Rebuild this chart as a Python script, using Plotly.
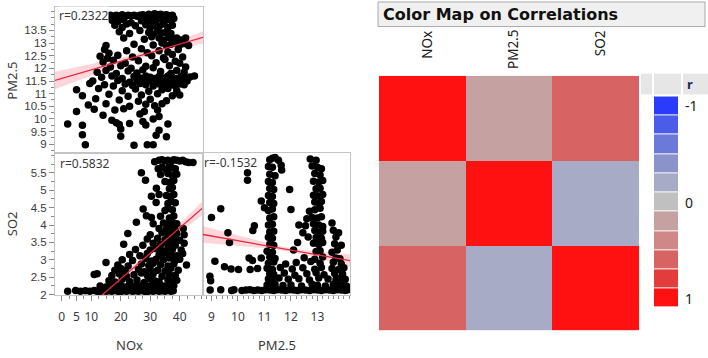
import numpy as np
import plotly.graph_objects as go

W, H = 708, 358
FONT = "Noto Sans"

# ---------------- data: PM2.5 vs NOx (top-left panel) ----------------
nox_a = [
    15.5, 16.5, 17.5, 18.5, 19.5, 20.5, 21.5, 22.5, 23.5, 24.5, 25.5, 26.5, 27.5, 28.5, 29.5, 30.5, 31.5, 32.5, 33.5, 34.5, 35.5, 36.5, 37.5,
    17, 19, 21, 23.5, 27, 29, 30.5, 32, 33.5, 35, 36.5, 38,
    18, 20.5, 22, 25, 28.5, 30, 31.5, 33, 34.5, 36, 37.5,
    19.5, 23, 26.5, 29.5, 31, 32.5, 34, 35.5, 37,
    21, 28, 30.5, 33, 34.5, 36, 37.5, 39, 40.5, 42,
    15, 24.5, 31, 34, 35.5, 37, 38.5, 40, 41.5, 43,
    14.5, 16, 22, 27, 29, 33, 36, 39.5,
    13, 15.5, 19, 24, 30.5, 34.5, 37.5, 41,
    14, 17.5, 21.5, 26, 32, 35, 38.5, 40,
    16.5, 20, 23.5, 28.5, 31, 36.5, 42,
    12, 15, 18.5, 22.5, 25.5, 27.5, 33.5, 37, 39, 41.5,
    13.5, 17, 20.5, 24.5, 26.5, 28.5, 30, 31.5, 33, 34.5, 36, 37.5, 39, 40.5, 42, 43.5, 45,
    10.5, 19, 23, 25.5, 27.5, 29, 30.5, 32, 33.5, 35, 36.5, 38, 39.5, 41, 42.5,
    9.5, 14.5, 17.5, 21.5, 24, 26.5, 28.5, 31, 33, 35, 37, 38.5, 40, 41.5,
    5, 12.5, 20.5, 25, 29.5, 34, 36, 39,
    7, 16, 22.5, 27, 32.5, 37.5, 40,
    11.5, 19.5, 26, 30, 35.5,
    9, 15, 23, 28.5, 31.5, 34,
    5, 11, 18, 21, 28, 32.5,
    14, 26.5, 33,
    17, 27.5, 31,
    2, 7, 18.5, 19.5, 23, 28.5, 36,
    20, 33,
    7, 20, 32, 35.5,
    8, 24.5, 29, 31,
]
pm_a = [
    14.08, 14.1, 14.06, 14.1, 14.08, 14.12, 14.06, 14.1, 14.08, 14.1, 14.06, 14.1, 14.12, 14.08, 14.14, 14.1, 14.16, 14.12, 14.14, 14.1, 14.12, 14.08, 14.1,
    13.9, 13.85, 13.92, 13.8, 13.88, 13.95, 13.85, 13.9, 13.95, 13.88, 13.92, 13.97,
    13.7, 13.62, 13.75, 13.68, 13.72, 13.6, 13.7, 13.65, 13.75, 13.62, 13.7,
    13.45, 13.38, 13.5, 13.42, 13.35, 13.48, 13.4, 13.45, 13.38,
    13.2, 13.15, 13.25, 13.2, 13.1, 13.22, 13.15, 13.2, 13.12, 13.2,
    12.9, 12.95, 12.92, 13.0, 12.9, 12.95, 13.0, 12.92, 12.98, 12.9,
    12.75, 12.6, 12.7, 12.78, 12.62, 12.7, 12.65, 12.75,
    12.48, 12.4, 12.52, 12.45, 12.5, 12.42, 12.55, 12.45,
    12.25, 12.32, 12.2, 12.3, 12.22, 12.35, 12.28, 12.2,
    12.05, 12.1, 12.0, 12.08, 12.02, 12.1, 12.05,
    11.85, 11.92, 11.8, 11.9, 11.82, 11.95, 11.88, 11.8, 11.92, 11.85,
    11.65, 11.7, 11.6, 11.68, 11.62, 11.7, 11.65, 11.6, 11.68, 11.62, 11.7, 11.65, 11.6, 11.68, 11.62, 11.66, 11.7,
    11.5, 11.52, 11.45, 11.5, 11.55, 11.48, 11.52, 11.45, 11.5, 11.55, 11.48, 11.5, 11.45, 11.52, 11.5,
    11.4, 11.35, 11.3, 11.38, 11.32, 11.4, 11.35, 11.3, 11.38, 11.32, 11.35, 11.3, 11.38, 11.35,
    11.15, 11.2, 11.12, 11.18, 11.1, 11.15, 11.2, 11.12,
    10.92, 10.98, 10.9, 10.95, 11.0, 10.92, 10.95,
    10.8, 10.75, 10.7, 10.78, 10.72,
    10.55, 10.6, 10.5, 10.58, 10.52, 10.6,
    10.3, 10.38, 10.35, 10.4, 10.3, 10.35,
    10.15, 10.2, 10.1,
    9.95, 9.9, 10.0,
    9.8, 9.75, 9.85, 9.78, 9.82, 9.76, 9.8,
    9.6, 9.55,
    9.38, 9.32, 9.36, 9.3,
    8.98, 8.96, 8.98, 8.98,
]

# ---------------- data: SO2 vs NOx (bottom-left panel) ----------------
nox_b = [
    2, 4.7, 6.3, 8, 9.5, 11, 12, 13, 14, 15, 16, 17, 18, 19, 20, 21, 22, 23, 24, 25, 26, 27, 28, 29, 30, 31, 32, 33, 34, 35, 36, 37, 37.8,
    13, 15, 17, 18.5, 20, 21.5, 23, 24.5, 26, 27.5, 29, 30.5, 32, 33.5, 35, 36.5, 38,
    16, 18, 20.5, 23, 25.5, 28, 30, 31.5, 33, 36, 37.5, 39,
    11, 12, 17, 19.5, 22, 24.5, 27, 29, 31, 34, 36.5, 38.5,
    18, 20, 21.5, 26, 28, 30, 32.5, 35, 37, 39.5,
    15, 19, 22.5, 27, 29.5, 31, 33.5, 36, 38, 42.3,
    20.5, 24, 28.5, 30.5, 32, 34.5, 36.5, 38.5, 40,
    23, 26.5, 29, 33, 35, 37, 39, 41,
    25, 30, 32, 34, 36, 37.5, 40.5,
    21, 27.5, 31, 33.5, 35.5, 37, 38.5, 41.5,
    29, 32.5, 35, 36.5, 38, 40,
    22.4, 30, 34, 36, 37.5, 39, 41.5,
    33, 35.5, 37, 38.5, 41.2,
    25.3, 31, 34.5, 36, 37.5, 39,
    28.7, 30.4, 33.5, 36.5, 38,
    27.6, 35, 36, 37.5,
    32, 36, 37, 38.5,
    30.4, 33, 35.5, 37, 38,
    32.1, 36.5, 37.5,
    28.4, 35, 36.5, 38,
    27, 33.5, 36, 37.5, 39,
    32.7, 34, 35.5, 36.5, 37.5, 38.5,
    31.5, 33, 34, 35, 36, 37, 38, 39, 40, 41, 42, 43, 44.5,
]
so2_b = [
    2.1, 2.12, 2.1, 2.11, 2.1, 2.12, 2.1, 2.09, 2.12, 2.1, 2.11, 2.1, 2.12, 2.1, 2.09, 2.11, 2.1, 2.12, 2.1, 2.11, 2.1, 2.12, 2.1, 2.09, 2.11, 2.1, 2.12, 2.1, 2.11, 2.1, 2.12, 2.1, 2.11,
    2.25, 2.22, 2.28, 2.24, 2.26, 2.22, 2.27, 2.25, 2.23, 2.28, 2.24, 2.26, 2.22, 2.27, 2.25, 2.23, 2.26,
    2.4, 2.36, 2.44, 2.38, 2.42, 2.35, 2.45, 2.4, 2.37, 2.43, 2.39, 2.41,
    2.58, 2.6, 2.55, 2.6, 2.52, 2.57, 2.62, 2.55, 2.6, 2.53, 2.58, 2.56,
    2.7, 2.75, 2.68, 2.72, 2.66, 2.74, 2.7, 2.68, 2.76, 2.7,
    2.92, 2.85, 2.82, 2.88, 2.84, 2.9, 2.86, 2.82, 2.88, 2.85,
    3.0, 2.98, 3.04, 2.97, 3.02, 3.0, 3.05, 2.98, 3.02,
    3.15, 3.12, 3.18, 3.14, 3.2, 3.16, 3.12, 3.18,
    3.3, 3.28, 3.32, 3.26, 3.34, 3.3, 3.28,
    3.45, 3.42, 3.48, 3.44, 3.5, 3.46, 3.42, 3.48,
    3.6, 3.62, 3.58, 3.64, 3.6, 3.56,
    3.76, 3.72, 3.78, 3.74, 3.8, 3.76, 3.72,
    3.9, 3.88, 3.92, 3.86, 3.9,
    4.08, 4.04, 4.06, 4.02, 4.08, 4.04,
    4.27, 4.22, 4.25, 4.2, 4.26,
    4.46, 4.42, 4.48, 4.44,
    4.65, 4.62, 4.68, 4.64,
    4.83, 4.88, 4.85, 4.82, 4.88,
    5.06, 5.04, 5.08,
    5.29, 5.25, 5.22, 5.28,
    5.5, 5.45, 5.48, 5.42, 5.46,
    5.62, 5.66, 5.6, 5.68, 5.64, 5.62,
    5.82, 5.86, 5.88, 5.84, 5.86, 5.82, 5.88, 5.86, 5.84, 5.86, 5.82, 5.8, 5.8,
]

# ---------------- data: SO2 vs PM2.5 (bottom-middle panel) ----------------
pm_c = [
    8.95, 9.35, 9.76, 9.85, 10.15, 10.3, 10.45, 10.6, 10.75, 10.9, 11.05, 11.2, 11.35, 11.5, 11.65, 11.8, 11.95, 12.1, 12.25, 12.4, 12.55, 12.7, 12.85, 13.0, 13.15, 13.3, 13.45, 13.6, 13.75, 13.9, 14.05, 14.15,
    11.1, 11.25, 11.4, 11.7, 12.0, 12.4, 12.8, 13.0, 13.3, 13.6, 13.75, 13.9, 14.1,
    8.97, 11.15, 11.3, 11.55, 11.9, 12.3, 12.7, 13.05, 13.4, 13.7, 13.85, 14.05,
    8.94, 11.2, 11.35, 11.75, 12.15, 12.6, 12.95, 13.25, 13.65, 13.95,
    9.49, 9.74, 10.02, 10.46, 10.74, 11.1, 11.3, 11.6, 12.05, 12.45, 12.9, 13.15, 13.55, 13.8, 14.0,
    9.13, 10.55, 11.15, 11.35, 11.8, 12.2, 12.75, 13.1, 13.6, 13.9,
    10.42, 10.88, 11.2, 11.4, 12.5, 12.9, 13.2, 13.7, 13.85,
    11.1, 11.3, 12.1, 12.95, 13.1, 13.55, 13.75,
    9.68, 11.2, 11.35, 12.25, 12.85, 13.05, 13.2, 13.65, 13.9,
    11.15, 11.3, 12.65, 12.95, 13.15, 13.7,
    9.62, 10.56, 11.2, 11.35, 12.45, 12.9, 13.1, 13.2, 13.6, 13.8,
    10.62, 11.15, 11.3, 12.3, 12.55, 12.85, 13.05, 13.2, 13.55,
    9.0, 11.2, 11.35, 12.6, 12.8, 13.0, 13.15,
    9.35, 11.0, 11.15, 11.3, 12.0, 12.7, 12.9, 13.1,
    10.88, 11.2, 11.35, 12.9, 13.05, 13.15,
    11.15, 11.3, 12.85, 13.0, 13.2,
    11.95, 11.2, 11.35, 12.95, 13.1,
    10.36, 11.15, 11.3, 12.85, 13.05, 13.2,
    10.36, 11.2, 11.4, 11.65, 12.9, 13.1,
    11.15, 11.3, 11.63, 12.8, 13.0, 13.15,
    11.2, 11.3, 11.4, 11.53, 12.73, 12.95,
]
so2_c = [
    2.13, 2.14, 2.12, 2.14, 2.12, 2.13, 2.14, 2.12, 2.13, 2.12, 2.14, 2.13, 2.12, 2.14, 2.13, 2.12, 2.14, 2.13, 2.12, 2.14, 2.13, 2.12, 2.14, 2.13, 2.12, 2.14, 2.13, 2.12, 2.14, 2.13, 2.12, 2.14,
    2.28, 2.25, 2.3, 2.26, 2.28, 2.25, 2.3, 2.27, 2.25, 2.29, 2.26, 2.28, 2.25,
    2.4, 2.45, 2.42, 2.48, 2.44, 2.46, 2.42, 2.48, 2.45, 2.43, 2.47, 2.44,
    2.53, 2.6, 2.58, 2.62, 2.56, 2.6, 2.63, 2.57, 2.61, 2.59,
    2.8, 2.74, 2.72, 2.72, 2.75, 2.76, 2.72, 2.78, 2.74, 2.77, 2.73, 2.78, 2.75, 2.72, 2.77,
    2.96, 2.98, 2.9, 2.94, 2.88, 2.92, 2.95, 2.9, 2.93, 2.88,
    3.05, 3.05, 3.08, 3.04, 3.06, 3.02, 3.08, 3.05, 3.03,
    3.25, 3.22, 3.28, 3.24, 3.26, 3.22, 3.28,
    3.5, 3.45, 3.42, 3.5, 3.48, 3.44, 3.5, 3.46, 3.42,
    3.65, 3.62, 3.66, 3.64, 3.62, 3.66,
    3.78, 3.84, 3.8, 3.82, 3.78, 3.84, 3.8, 3.82, 3.85, 3.78,
    3.98, 4.0, 4.02, 4.0, 3.98, 4.04, 4.0, 3.96, 4.06,
    4.22, 4.2, 4.24, 4.18, 4.22, 4.2, 4.24,
    4.47, 4.5, 4.42, 4.46, 4.45, 4.4, 4.44, 4.48,
    4.69, 4.65, 4.62, 4.66, 4.62, 4.68,
    4.85, 4.82, 4.86, 4.84, 4.88,
    5.02, 5.05, 5.02, 5.04, 5.06,
    5.29, 5.25, 5.22, 5.26, 5.24, 5.28,
    5.5, 5.46, 5.42, 5.58, 5.48, 5.44,
    5.68, 5.66, 5.72, 5.7, 5.66, 5.62,
    5.88, 5.92, 5.94, 5.86, 5.9, 5.86,
]

# correlations & fits
variables = ["NOx", "PM2.5", "SO2"]
r_nox_pm = 0.2322
r_nox_so2 = 0.5832
r_pm_so2 = -0.1532
fit_intercept = [11.6, 0.987, 4.90]
fit_slope = [0.0339, 0.0733, -0.135]
fit_xmean = [28.0, 30.0, 11.9]
fit_hw0 = [0.10, 0.04, 0.05]
fit_hwc = [1.18e-4, 1.19e-4, 5.14e-3]

# colour legend
band_values = [-1.0, -0.8, -0.6, -0.4, -0.2, 0.0, 0.2, 0.4, 0.6, 0.8, 1.0]
band_colors = ["#2b3bfb", "#4b5ce9", "#6b7ad9", "#8a93ca", "#a7abc5", "#c0c0c0",
               "#c6a1a1", "#cf8787", "#d86363", "#e33c3c", "#ff1111"]
legend_ticks = ["-1", "0", "1"]

nox_ticks = [0, 5, 10, 20, 30, 40]
pm_ticks_y = [9, 9.5, 10, 10.5, 11, 11.5, 12, 12.5, 13, 13.5]
pm_ticks_x = [9, 10, 11, 12, 13]
so2_ticks = [2, 2.5, 3, 3.5, 4, 4.5, 5, 5.5]

# ---------------- helpers ----------------
def fx(px):
    return px / W

def fy(py):
    return 1 - py / H

GRID = "#c4c4c4"
TICK = "#8a8a8a"
TXT = "#3a3a3a"

def base_axis(dom, rng, anchor):
    return dict(domain=dom, range=rng, anchor=anchor, showline=True, mirror=True,
                linecolor=GRID, linewidth=1, showgrid=False, zeroline=False, fixedrange=True)

nox_rng = [-2.3, 47.9]
pm_rng_y = [8.64, 14.43]
pm_rng_x = [8.68, 14.23]
so2_rng = [1.99, 6.06]

fig = go.Figure()

panels = [
    (nox_a, pm_a, "x", "y", nox_rng, 0),
    (nox_b, so2_b, "x2", "y2", nox_rng, 1),
    (pm_c, so2_c, "x3", "y3", pm_rng_x, 2),
]
for xs, ys, xa, ya, xr, k in panels:
    xl = np.linspace(xr[0], xr[1], 80)
    yl = fit_intercept[k] + fit_slope[k] * xl
    hw = np.sqrt(fit_hw0[k] ** 2 + fit_hwc[k] * (xl - fit_xmean[k]) ** 2)
    fig.add_trace(go.Scatter(x=np.concatenate([xl, xl[::-1]]),
                             y=np.concatenate([yl + hw, (yl - hw)[::-1]]),
                             fill="toself", fillcolor="rgba(245,90,110,0.25)",
                             line=dict(width=0), mode="lines", xaxis=xa, yaxis=ya,
                             hoverinfo="skip", showlegend=False))
    fig.add_trace(go.Scatter(x=xs, y=ys, mode="markers",
                             marker=dict(color="black", size=7.5, line=dict(width=0)),
                             xaxis=xa, yaxis=ya, showlegend=False))
    fig.add_trace(go.Scatter(x=xl, y=yl, mode="lines",
                             line=dict(color="#e8283c", width=1.3),
                             xaxis=xa, yaxis=ya, hoverinfo="skip", showlegend=False))

# heatmap
corr = [[1.0, r_nox_pm, r_nox_so2],
        [r_nox_pm, 1.0, r_pm_so2],
        [r_nox_so2, r_pm_so2, 1.0]]
n = len(band_colors)
cscale = []
for i, c in enumerate(band_colors):
    cscale.append([i / n, c])
    cscale.append([(i + 1) / n, c])
fig.add_trace(go.Heatmap(z=corr, x=[0, 1, 2], y=[0, 1, 2], colorscale=cscale,
                         zmin=-1.1, zmax=1.1, showscale=False, xaxis="x4", yaxis="y4",
                         hoverinfo="skip"))
fig.add_trace(go.Heatmap(z=[[v] for v in band_values], x=[0], y=list(range(n)),
                         colorscale=cscale, zmin=-1.1, zmax=1.1, showscale=False,
                         ygap=1, xaxis="x5", yaxis="y5", hoverinfo="skip"))

ytickfont = dict(family="Liberation Sans", size=11.5, color=TXT)
xtickfont = dict(family=FONT, size=12, color=TXT)
minor_style = dict(ticks="outside", ticklen=3, tickcolor=TICK)

xa1 = base_axis([fx(55), fx(203)], nox_rng, "y")
xa1.update(showticklabels=False, ticks="")
ya1 = base_axis([fy(156), fy(7)], pm_rng_y, "x")
ya1.update(tickmode="array", tickvals=pm_ticks_y, ticks="outside", ticklen=5,
           tickcolor=TICK, tickfont=ytickfont, minor=dict(dtick=0.25, tick0=0, **minor_style))
xa2 = base_axis([fx(55), fx(203)], nox_rng, "y2")
xa2.update(tickmode="array", tickvals=nox_ticks, ticks="outside", ticklen=5,
           tickcolor=TICK, tickfont=xtickfont, ticklabelstandoff=6,
           minor=dict(dtick=2.5, tick0=0, **minor_style))
ya2 = base_axis([fy(300), fy(156)], so2_rng, "x2")
ya2.update(tickmode="array", tickvals=so2_ticks, ticks="outside", ticklen=5,
           tickcolor=TICK, tickfont=ytickfont, minor=dict(dtick=0.25, tick0=0, **minor_style))
xa3 = base_axis([fx(203), fx(350)], pm_rng_x, "y3")
xa3.update(tickmode="array", tickvals=pm_ticks_x, ticks="outside", ticklen=5,
           tickcolor=TICK, tickfont=xtickfont, ticklabelstandoff=6,
           minor=dict(dtick=0.2, tick0=0, **minor_style))
ya3 = base_axis([fy(300), fy(156)], so2_rng, "x3")
ya3.update(showticklabels=False, ticks="")

hidden = dict(showline=False, showgrid=False, zeroline=False, showticklabels=False,
              ticks="", fixedrange=True)
xa4 = dict(domain=[fx(379), fx(639)], range=[-0.5, 2.5], anchor="y4", **hidden)
ya4 = dict(domain=[fy(336), fy(77)], range=[2.5, -0.5], anchor="x4", **hidden)
xa5 = dict(domain=[fx(654), fx(678)], range=[-0.5, 0.5], anchor="y5", **hidden)
ya5 = dict(domain=[fy(313), fy(98)], range=[n - 0.5, -0.5], anchor="x5", **hidden)

shapes = [
    dict(type="rect", xref="paper", yref="paper", x0=fx(378), x1=fx(705), y0=fy(27), y1=fy(2),
         fillcolor="#f0f0f0", line=dict(color="#a8a8a8", width=1), layer="below"),
    dict(type="rect", xref="paper", yref="paper", x0=fx(641), x1=fx(652), y0=fy(96), y1=fy(75),
         fillcolor="#e6e6e6", line=dict(width=0), layer="below"),
    dict(type="rect", xref="paper", yref="paper", x0=fx(654), x1=fx(681), y0=fy(96), y1=fy(75),
         fillcolor="#e6e6e6", line=dict(width=0), layer="below"),
    dict(type="rect", xref="paper", yref="paper", x0=fx(683), x1=fx(708), y0=fy(96), y1=fy(75),
         fillcolor="#e6e6e6", line=dict(width=0), layer="below"),
]

ann = []
rlab = dict(family=FONT, size=12, color=TXT)
lab = dict(family=FONT, size=13, color=TXT)
ann.append(dict(text="r=%.4f" % r_nox_pm, xref="paper", yref="paper", x=fx(58), y=fy(16),
                xanchor="left", yanchor="middle", showarrow=False, font=rlab,
                bgcolor="white", borderpad=0))
ann.append(dict(text="r=%.4f" % r_nox_so2, xref="paper", yref="paper", x=fx(58), y=fy(166),
                xanchor="left", yanchor="middle", showarrow=False, font=rlab))
ann.append(dict(text="r=%.4f" % r_pm_so2, xref="paper", yref="paper", x=fx(202), y=fy(165),
                xanchor="left", yanchor="middle", showarrow=False, font=rlab))
# axis titles
ann.append(dict(text=variables[1], xref="paper", yref="paper", x=fx(12), y=fy(82), textangle=-90,
                xanchor="center", yanchor="middle", showarrow=False, font=lab))
ann.append(dict(text=variables[2], xref="paper", yref="paper", x=fx(12), y=fy(228), textangle=-90,
                xanchor="center", yanchor="middle", showarrow=False, font=lab))
ann.append(dict(text=variables[0], xref="paper", yref="paper", x=fx(129), y=fy(351),
                xanchor="center", yanchor="middle", showarrow=False, font=lab))
ann.append(dict(text=variables[1], xref="paper", yref="paper", x=fx(277), y=fy(351),
                xanchor="center", yanchor="middle", showarrow=False, font=lab))
# heatmap title
ann.append(dict(text="<b>Color Map on Correlations</b>", xref="paper", yref="paper", x=fx(381),
                y=fy(15), xanchor="left", yanchor="middle", showarrow=False,
                font=dict(family="DejaVu Sans", size=16, color="#111111")))
# heatmap column labels
for i, v in enumerate(variables):
    ann.append(dict(text=v, xref="x4", yref="paper", x=i, xshift=4, y=fy(29), textangle=-90,
                    xanchor="center", yanchor="top", showarrow=False,
                    font=dict(family=FONT, size=13.5, color="#202020")))
# legend header and labels
ann.append(dict(text="<b>r</b>", xref="paper", yref="paper", x=fx(685), y=fy(85),
                xanchor="left", yanchor="middle", showarrow=False,
                font=dict(family=FONT, size=13, color="#1c2a50")))
for lbl, idx in zip(legend_ticks, [0, 5, 10]):
    ann.append(dict(text=lbl, xref="paper", yref="y5", x=fx(683), y=idx,
                    xanchor="left", yanchor="middle", showarrow=False,
                    font=dict(family=FONT, size=14, color="#202020")))

fig.update_layout(
    width=W, height=H, margin=dict(l=0, r=0, t=0, b=0), autosize=False,
    paper_bgcolor="white", plot_bgcolor="white", showlegend=False,
    xaxis=xa1, yaxis=ya1, xaxis2=xa2, yaxis2=ya2, xaxis3=xa3, yaxis3=ya3,
    xaxis4=xa4, yaxis4=ya4, xaxis5=xa5, yaxis5=ya5,
    shapes=shapes, annotations=ann,
)

fig.write_html("out.html", config={"displayModeBar": False},
               post_script="document.body.style.margin='0px';document.body.style.overflow='hidden';document.documentElement.style.overflow='hidden';")
